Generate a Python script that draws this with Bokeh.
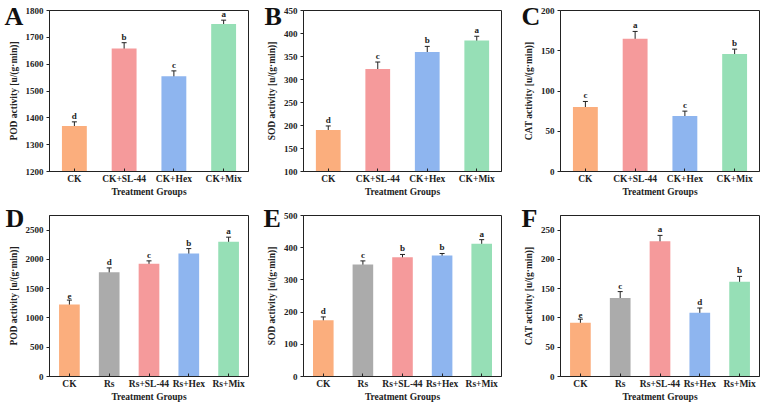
from bokeh.plotting import figure
from bokeh.layouts import column, row
from bokeh.models import Title, Whisker, ColumnDataSource, FixedTicker, TeeHead
from bokeh.core.properties import value
from bokeh.embed import file_html
from bokeh.resources import INLINE

# ---------------- data ----------------
groups_top = ["CK", "CK+SL-44", "CK+Hex", "CK+Mix"]
groups_bot = ["CK", "Rs", "Rs+SL-44", "Rs+Hex", "Rs+Mix"]

pod_top = [1370, 1658, 1555, 1750]
pod_top_err = [15, 22, 20, 14]
pod_top_sig = ["d", "b", "c", "a"]

sod_top = [190, 323, 360, 385]
sod_top_err = [9, 15, 12, 9]
sod_top_sig = ["d", "c", "b", "a"]

cat_top = [80, 165, 69, 146]
cat_top_err = [7, 9, 6, 6]
cat_top_sig = ["c", "a", "c", "b"]

pod_bot = [1230, 1780, 1925, 2100, 2300]
pod_bot_err = [75, 75, 50, 85, 80]
pod_bot_sig = ["e", "d", "c", "b", "a"]

sod_bot = [175, 348, 370, 376, 412]
sod_bot_err = [10, 11, 9, 6, 13]
sod_bot_sig = ["d", "c", "b", "b", "a"]

cat_bot = [92, 134, 231, 109, 162]
cat_bot_err = [6, 11, 10, 8, 9]
cat_bot_sig = ["e", "c", "a", "d", "b"]

colors_top = ["#FBAE7D", "#F59A9B", "#8EB5EF", "#96DFB6"]
colors_bot = ["#FBAE7D", "#ABABAB", "#F59A9B", "#8EB5EF", "#96DFB6"]

SERIF = "Liberation Serif"
SERIF_V = value(SERIF)


def panel(letter, groups, vals, errs, sigs, colors, ylab, yrange, yticks,
          width, height, bl, br, bt, bb, loff, lstand):
    n = len(groups)
    xs = list(range(n))
    p = figure(width=width, height=height, output_backend="svg",
               toolbar_location=None, x_range=(-0.5, n - 0.5),
               y_range=yrange, min_border_left=bl, min_border_right=br,
               min_border_top=bt, min_border_bottom=bb)
    p.xgrid.visible = False
    p.ygrid.visible = False
    p.outline_line_color = "#222222"
    p.outline_line_width = 1
    bw = 0.5 if n == 4 else 0.52
    src = ColumnDataSource(dict(x=xs, top=vals, color=colors,
                                lo=[v - e for v, e in zip(vals, errs)],
                                hi=[v + e for v, e in zip(vals, errs)],
                                sig=sigs))
    p.vbar(x="x", top="top", bottom=yrange[0], width=bw, color="color",
           source=src, line_color=None)
    w = Whisker(base="x", lower="lo", upper="hi", source=src,
                line_color="#222222", line_width=1,
                upper_head=TeeHead(size=5, line_color="#222222"),
                lower_head=TeeHead(size=5, line_color="#222222"))
    p.add_layout(w)
    p.text(x="x", y="hi", text="sig", source=src, text_align="center",
           text_baseline="bottom", y_offset=-1, text_font=SERIF_V,
           text_font_style="bold", text_font_size="9px", text_color="#222222")
    for ax in (p.xaxis[0], p.yaxis[0]):
        ax.major_label_text_font = SERIF
        ax.major_label_text_font_style = "bold"
        ax.major_label_text_font_size = "9px"
        ax.major_label_text_color = "#222222"
        ax.axis_label_text_font = SERIF
        ax.axis_label_text_font_style = "bold"
        ax.axis_label_text_font_size = "9.5px"
        ax.axis_label_text_color = "#222222"
        ax.axis_line_color = "#222222"
        ax.major_tick_line_color = "#222222"
        ax.major_tick_out = 3
        ax.major_tick_in = 0
        ax.minor_tick_line_color = None
        ax.axis_label_standoff = 4
        ax.major_label_standoff = 3
    p.xaxis.ticker = FixedTicker(ticks=xs)
    p.xaxis.major_label_overrides = {i: g for i, g in enumerate(groups)}
    p.xaxis.major_label_text_font_size = "9.5px"
    p.xaxis.axis_label = "Treatment Groups"
    p.xaxis.major_tick_out = 0
    p.xaxis.major_tick_in = 3
    p.xaxis.major_label_standoff = 2
    p.xaxis.axis_label_standoff = 0
    p.yaxis.ticker = FixedTicker(ticks=yticks)
    p.yaxis.axis_label = ylab
    t = Title(text=letter, text_font=SERIF, text_font_style="bold",
              text_font_size="26px", text_color="#111111", align="left",
              offset=loff, standoff=lstand)
    p.add_layout(t, "above")
    return p


a = panel("A", groups_top, pod_top, pod_top_err, pod_top_sig, colors_top,
          "POD activity [u/(g·min)]", (1200, 1800),
          [1200, 1300, 1400, 1500, 1600, 1700, 1800], 255, 202, 49, 7, 10, 31,
          -45, -41)
b = panel("B", groups_top, sod_top, sod_top_err, sod_top_sig, colors_top,
          "SOD activity [u/(g·min)]", (100, 450),
          [100, 150, 200, 250, 300, 350, 400, 450], 255, 202, 48, 9, 10, 31,
          -39, -41)
c = panel("C", groups_top, cat_top, cat_top_err, cat_top_sig, colors_top,
          "CAT activity [u/(g·min)]", (0, 200),
          [0, 50, 100, 150, 200], 257, 202, 50, 8, 10, 31, -39, -41)
d = panel("D", groups_bot, pod_bot, pod_bot_err, pod_bot_sig, colors_bot,
          "POD activity [u/(g·min)]", (0, 2750),
          [0, 500, 1000, 1500, 2000, 2500], 255, 203, 49, 7, 13, 29, -44, -35)
e = panel("E", groups_bot, sod_bot, sod_bot_err, sod_bot_sig, colors_bot,
          "SOD activity [u/(g·min)]", (0, 500),
          [0, 100, 200, 300, 400, 500], 255, 203, 48, 9, 13, 29, -40, -35)
f = panel("F", groups_bot, cat_bot, cat_bot_err, cat_bot_sig, colors_bot,
          "CAT activity [u/(g·min)]", (0, 275),
          [0, 50, 100, 150, 200, 250], 257, 203, 50, 8, 13, 29, -39, -35)

layout = column(row(a, b, c, spacing=0), row(d, e, f, spacing=0), spacing=0)
open("out.html", "w").write(file_html(layout, INLINE))
